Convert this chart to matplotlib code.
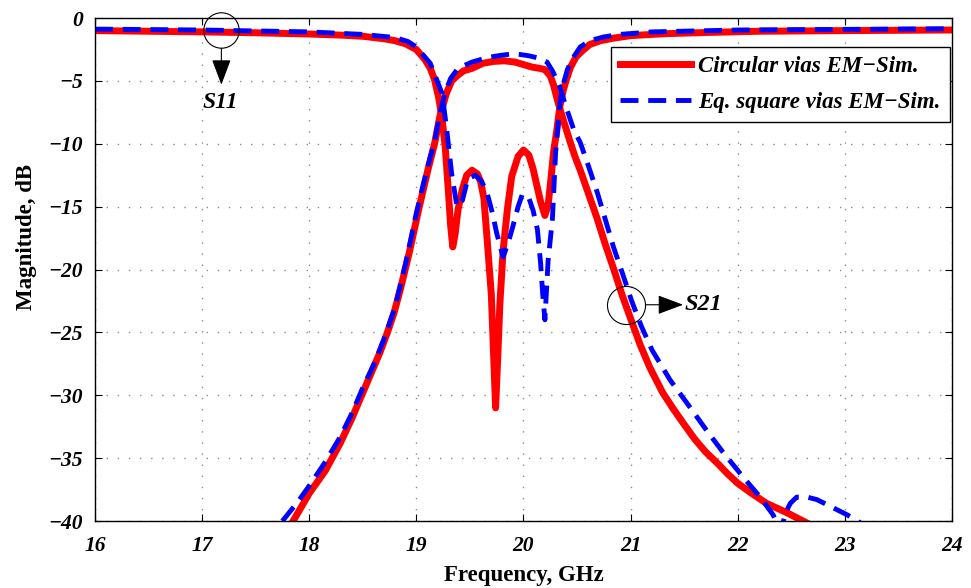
import numpy as np
import matplotlib.pyplot as plt

# circular vias, EM simulation (frequency in GHz, magnitude in dB)
circ_f11 = [16.0, 16.5, 17.0, 17.5, 18.0, 18.3, 18.5, 18.7, 18.8, 18.9, 19.0, 19.08, 19.13,
            19.17, 19.21, 19.24, 19.27, 19.3, 19.32, 19.34, 19.36, 19.39, 19.43, 19.47, 19.52,
            19.57, 19.6, 19.63, 19.66, 19.7, 19.72, 19.74, 19.76, 19.78, 19.81, 19.85, 19.89,
            19.95, 20.0, 20.05, 20.09, 20.13, 20.16, 20.2, 20.23, 20.26, 20.28, 20.31, 20.34,
            20.37, 20.4, 20.44, 20.49, 20.55, 20.62, 20.72, 20.84, 21.0, 21.3, 21.7, 22.2,
            23.0, 24.0]
circ_s11 = [-1.0, -1.05, -1.1, -1.17, -1.27, -1.36, -1.45, -1.65, -1.8, -2.05, -2.5, -3.3, -4.0,
            -4.9, -6.4, -8.0, -10.3, -13.9, -16.5, -18.2, -17.3, -15.2, -13.6, -12.5, -12.1,
            -12.4, -13.0, -14.3, -17.5, -22.0, -26.5, -31.0, -27.0, -22.7, -18.5, -15.2, -12.6,
            -11.0, -10.5, -10.9, -12.0, -13.5, -14.6, -15.7, -14.9, -12.5, -10.7, -9.0, -7.0,
            -5.8, -4.9, -3.9, -3.1, -2.6, -2.1, -1.8, -1.6, -1.4, -1.25, -1.15, -1.05,
            -1.0, -0.95]
circ_f21 = [17.7, 17.85, 18.0, 18.15, 18.29, 18.4, 18.5, 18.58, 18.66, 18.73, 18.79, 18.85, 18.93,
            19.02, 19.11, 19.17, 19.22, 19.28, 19.33, 19.38, 19.44, 19.52, 19.62, 19.72, 19.82,
            19.92, 20.0, 20.08, 20.15, 20.2, 20.25, 20.28, 20.31, 20.35, 20.39, 20.43, 20.48,
            20.53, 20.6, 20.69, 20.76, 20.84, 20.92, 21.0, 21.09, 21.18, 21.3, 21.4, 21.49,
            21.6, 21.7, 21.81, 21.9, 22.0, 22.13, 22.27, 22.45, 22.61, 22.75]
circ_s21 = [-41.8, -40.0, -37.8, -36.0, -33.8, -31.8, -29.8, -28.2, -26.6, -25.0, -23.5, -21.6, -18.8,
            -15.3, -12.0, -10.0, -7.8, -6.0, -5.0, -4.6, -4.2, -4.0, -3.6, -3.45, -3.4,
            -3.5, -3.7, -3.9, -4.0, -4.1, -4.6, -5.3, -6.3, -7.5, -8.6, -9.7, -11.0,
            -12.1, -13.8, -16.0, -17.9, -19.9, -22.0, -23.9, -26.0, -27.8, -29.8, -31.1, -32.2,
            -33.5, -34.5, -35.4, -36.2, -37.0, -37.8, -38.6, -39.3, -40.0, -40.6]

# equivalent square vias, EM simulation
sq_f11 = [16.0, 17.0, 18.0, 18.5, 18.8, 18.92, 19.0, 19.06, 19.13, 19.19, 19.24, 19.28, 19.33,
          19.38, 19.43, 19.48, 19.55, 19.61, 19.66, 19.71, 19.75, 19.81, 19.86, 19.9, 19.95,
          19.99, 20.05, 20.09, 20.13, 20.16, 20.18, 20.2, 20.23, 20.27, 20.3, 20.34, 20.37,
          20.41, 20.46, 20.53, 20.62, 20.75, 20.9, 21.2, 22.0, 23.0, 24.0]
sq_s11 = [-0.88, -0.95, -1.1, -1.3, -1.55, -1.86, -2.3, -2.9, -3.6, -4.9, -6.0, -8.6, -12.4,
          -15.0, -14.5, -12.8, -12.5, -13.0, -13.9, -15.5, -17.1, -19.0, -17.8, -16.6, -15.0,
          -14.0, -14.3, -15.3, -16.8, -19.5, -22.0, -24.0, -19.3, -16.0, -10.7, -6.8, -5.3,
          -4.1, -3.2, -2.3, -1.8, -1.5, -1.3, -1.1, -0.95, -0.9, -0.85]
sq_f21 = [17.6, 17.75, 17.9, 18.0, 18.15, 18.29, 18.4, 18.5, 18.6, 18.7, 18.8, 18.9, 19.0, 19.1,
          19.17, 19.22, 19.27, 19.32, 19.38, 19.44, 19.52, 19.6, 19.69, 19.8, 19.9, 19.97,
          20.05, 20.15, 20.22, 20.27, 20.31, 20.34, 20.38, 20.43, 20.47, 20.53, 20.6, 20.69,
          20.76, 20.84, 20.92, 21.01, 21.1, 21.2, 21.37, 21.55, 21.71, 21.86, 22.05, 22.21,
          22.33, 22.4, 22.45, 22.49, 22.55, 22.65, 22.74, 22.88, 23.02, 23.12, 23.25]
sq_s21 = [-41.8, -40.0, -38.4, -37.2, -35.3, -33.3, -31.4, -29.4, -27.6, -25.5, -23.0, -19.5, -15.5, -12.0,
          -9.8, -7.6, -5.9, -4.8, -4.1, -3.8, -3.5, -3.3, -3.1, -2.95, -2.85, -2.9,
          -3.0, -3.2, -3.5, -4.2, -4.9, -5.5, -6.6, -7.9, -8.9, -9.9, -11.6, -13.9,
          -15.9, -18.2, -20.2, -22.5, -24.5, -26.4, -28.8, -30.9, -32.8, -34.5, -36.5, -38.1,
          -39.5, -40.8, -39.3, -38.6, -38.1, -38.1, -38.3, -38.9, -39.5, -40.0, -40.8]

xticks = np.arange(16, 25, 1)
yticks = np.arange(-40, 1, 5)

plt.rcParams['font.family'] = 'Liberation Serif'
plt.rcParams['font.weight'] = 'bold'
plt.rcParams['font.style'] = 'italic'

fig = plt.figure(figsize=(9.71, 5.88), dpi=100)
ax = fig.add_axes([0.0978, 0.1139, 0.8826, 0.8554])

ax.plot(circ_f11, circ_s11, color='red', lw=5, label='Circular vias EM\u2212Sim.')
ax.plot(circ_f21, circ_s21, color='red', lw=5)
ax.plot(sq_f11, sq_s11, color='blue', lw=3.5, dashes=(3.7, 2.0),
        label='Eq. square vias EM\u2212Sim.')
ax.plot(sq_f21, sq_s21, color='blue', lw=3.5, dashes=(3.7, 2.0))

ax.set_xlim(16, 24)
ax.set_ylim(-40, 0)
ax.set_xticks(xticks)
ax.set_yticks(yticks)
ax.tick_params(direction='in', top=True, right=True, length=5, width=0.8, labelsize=15.5)
ax.tick_params(axis='x', pad=10.5)
ax.tick_params(axis='y', pad=8.6)
ax.grid(True, color='0.55', lw=1.0, dashes=(1, 7))
for s in ax.spines.values():
    s.set_linewidth(1.0)

ax.set_xlabel('Frequency, GHz', fontsize=16.5, fontweight='bold', style='normal')
ax.set_ylabel('Magnitude, dB', fontsize=16.5, fontweight='bold', style='normal')
ax.xaxis.set_label_coords(0.5, -0.088)
ax.yaxis.set_label_coords(-0.068, 0.565)

leg = ax.legend(loc='upper right', bbox_to_anchor=(0.998, 0.943), borderaxespad=0,
                fancybox=False, edgecolor='k', framealpha=1, handlelength=3.1,
                handletextpad=0.3, labelspacing=0.62, borderpad=0.42,
                prop={'family': 'Liberation Serif', 'weight': 'bold', 'style': 'italic',
                      'size': 16.5})
leg.get_frame().set_linewidth(1.0)

# S11 / S21 markers
ax.plot(17.18, -0.95, 'o', ms=25.5, mfc='none', mec='k', mew=0.8, clip_on=False)
ax.annotate('', xy=(17.18, -5.3), xytext=(17.18, -2.4),
            arrowprops=dict(arrowstyle='-|>,head_length=0.8,head_width=0.3', color='k',
                            lw=0.8, shrinkA=0, shrinkB=0, mutation_scale=20))
ax.text(17.17, -6.7, 'S11', ha='center', va='center', fontsize=17)

ax.plot(20.96, -22.8, 'o', ms=27.4, mfc='none', mec='k', mew=0.8)
ax.annotate('', xy=(21.49, -22.8), xytext=(21.145, -22.8),
            arrowprops=dict(arrowstyle='-|>,head_length=0.8,head_width=0.3', color='k',
                            lw=0.8, shrinkA=0, shrinkB=0, mutation_scale=20))
ax.text(21.5, -22.8, 'S21', ha='left', va='center', fontsize=17.5)

fig.savefig('out.png', dpi=100)
